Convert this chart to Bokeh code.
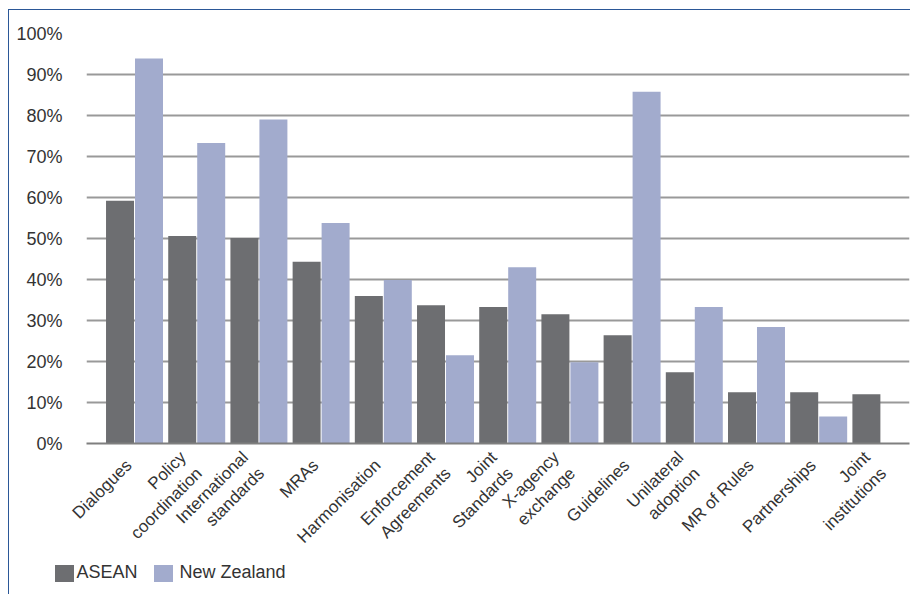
from bokeh.plotting import figure
from bokeh.models import ColumnDataSource, FixedTicker, NumeralTickFormatter, Range1d, Div
from bokeh.layouts import column
from bokeh.transform import dodge
from bokeh.embed import file_html
from bokeh.resources import INLINE

categories = ["Dialogues", "Policy\ncoordination", "International\nstandards", "MRAs",
              "Harmonisation", "Enforcement\nAgreements", "Joint\nStandards",
              "X-agency\nexchange", "Guidelines", "Unilateral\nadoption", "MR of Rules",
              "Partnerships", "Joint\ninstitutions"]
asean = [0.592, 0.506, 0.501, 0.443, 0.360, 0.337, 0.333, 0.315, 0.264, 0.174, 0.125, 0.125, 0.120]
new_zealand = [0.939, 0.733, 0.790, 0.538, 0.399, 0.215, 0.430, 0.198, 0.858, 0.333, 0.284, 0.066, 0.0]
series_names = ["ASEAN", "New Zealand"]
y_ticks = [0.0, 0.1, 0.2, 0.3, 0.4, 0.5, 0.6, 0.7, 0.8, 0.9, 1.0]

positions = list(range(len(categories)))
src = ColumnDataSource(dict(x=positions, asean=asean, nz=new_zealand))

FONT = "Liberation Sans"
C_ASEAN = "#6d6e71"
C_NZ = "#a2abcd"
colors = [C_ASEAN, C_NZ]
TXT = "#333333"

p = figure(width=901, height=553, output_backend="svg", toolbar_location=None,
           x_range=Range1d(-0.772, 12.46), y_range=Range1d(0, 1.0),
           min_border_left=77, min_border_right=1, min_border_top=23, min_border_bottom=120)
p.outline_line_color = None
p.background_fill_color = "white"
p.border_fill_color = "white"

p.vbar(x=dodge("x", -0.233, range=p.x_range), top="asean", width=0.45, bottom=0,
       source=src, fill_color=C_ASEAN, line_color=None)
p.vbar(x=dodge("x", 0.233, range=p.x_range), top="nz", width=0.45, bottom=0,
       source=src, fill_color=C_NZ, line_color=None)

# x axis: labels sit slightly left of the category centre, as in the original
label_shift = -0.09
label_ticks = [x + label_shift for x in positions]
xa = p.xaxis[0]
xa.ticker = FixedTicker(ticks=label_ticks)
xa.major_label_overrides = {t: c for t, c in zip(label_ticks, categories)}
xa.major_label_orientation = 0.785398
xa.major_tick_line_color = None
xa.minor_tick_line_color = None
xa.axis_line_color = "#7f7f7f"
xa.axis_line_width = 2
xa.major_label_text_font = FONT
xa.major_label_text_font_size = "17px"
xa.major_label_text_color = TXT
xa.major_label_standoff = 13

# y axis
ya = p.yaxis[0]
ya.ticker = FixedTicker(ticks=y_ticks)
ya.formatter = NumeralTickFormatter(format="0%")
ya.major_tick_line_color = None
ya.minor_tick_line_color = None
ya.axis_line_color = None
ya.major_label_text_font = FONT
ya.major_label_text_font_size = "18px"
ya.major_label_text_color = TXT
ya.major_label_standoff = 18

p.xgrid.grid_line_color = None
p.ygrid.ticker = FixedTicker(ticks=y_ticks[1:])
p.ygrid.grid_line_color = "#999999"
p.ygrid.grid_line_width = 2

# legend row
gaps = ["margin-left:45.5px;margin-right:3px", "margin-left:16px;margin-right:7px"]
parts = []
for name, col, gap in zip(series_names, colors, gaps):
    parts.append(f'<span style="display:inline-block;width:19px;height:17px;background:{col};{gap}"></span>'
                 f'<span>{name}</span>')
legend_html = ('<div style="display:flex;align-items:center;height:17px;margin-top:1.5px;'
               f'font-family:\'{FONT}\';font-size:18px;color:{TXT};white-space:nowrap;">'
               + "".join(parts) + '</div>')
lg = Div(text=legend_html, width=400, height=31)
lg.styles = {"margin": "0", "padding": "0"}

layout = column(p, lg, spacing=0)
layout.styles = {"position": "relative", "left": "8px", "top": "9px",
                 "border-left": "1.5px solid #2b5797", "border-top": "1.5px solid #2b5797"}

open("out.html", "w").write(file_html(layout, INLINE))
